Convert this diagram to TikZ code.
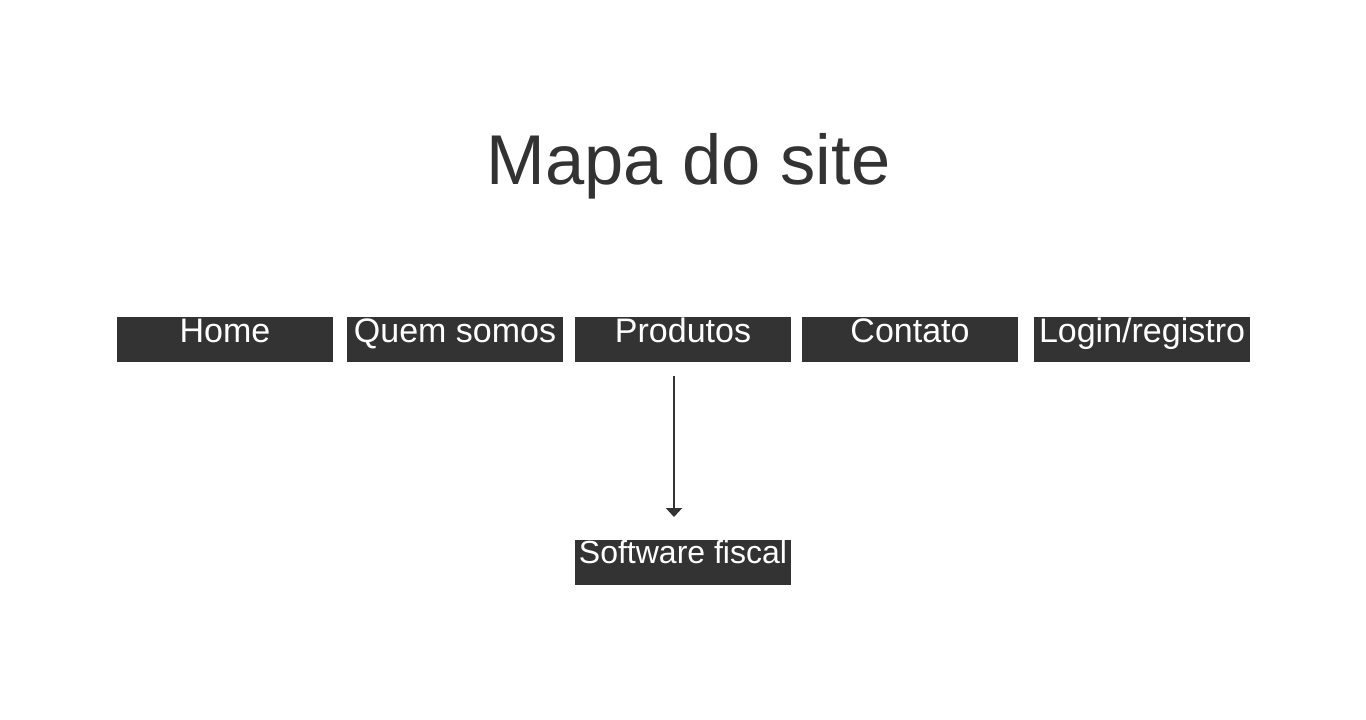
\documentclass[tikz,border=0pt]{standalone}
\usepackage{fontspec}
\setmainfont{Liberation Sans}
\usetikzlibrary{arrows.meta}
\definecolor{dark}{HTML}{333333}
\tikzset{
  menubox/.style={anchor=north, fill=dark, text=white, inner sep=0pt,
    minimum width=216pt, text height=25pt, text depth=20pt,
    font=\fontsize{34}{40}\selectfont},
  subbox/.style={menubox, text height=23pt, text depth=22pt,
    font=\fontsize{32}{38}\selectfont},
  arr/.style={draw=dark, line width=2.5pt, -{Triangle[width=16pt,length=9pt]}}
}
\begin{document}
\begin{tikzpicture}[x=1pt,y=-1pt]
\useasboundingbox[fill=white] (0,0) rectangle (1366,720);
\node[anchor=base, text=dark, inner sep=0pt, font=\fontsize{70.5}{84}\selectfont] (title) at (688.5,184) {Mapa do site};
\node[menubox] (home) at (225,317) {Home};
\node[menubox] (quem) at (455,317) {Quem somos};
\node[menubox] (prod) at (683,317) {Produtos};
\node[menubox] (cont) at (910,317) {Contato};
\node[menubox] (login) at (1142,317) {Login/registro};
\node[subbox] (soft) at (683,540) {Software fiscal};
\draw[arr] ([xshift=-9pt,yshift=-14pt]prod.south) -- ([xshift=-9pt,yshift=23pt]soft.north);
\end{tikzpicture}
\end{document}
